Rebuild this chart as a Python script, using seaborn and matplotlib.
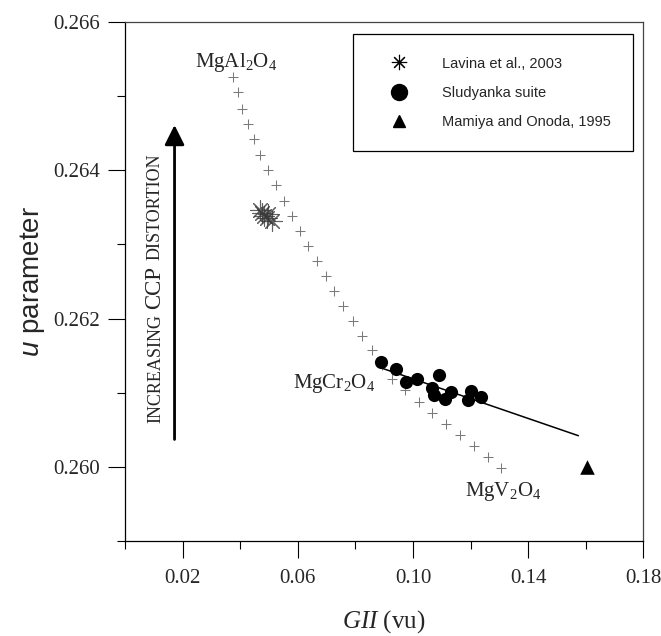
import matplotlib
matplotlib.use("Agg")
import matplotlib.pyplot as plt
import seaborn as sns
from matplotlib.lines import Line2D
from matplotlib.ticker import FixedLocator

# Model trend between the MgAl2O4, MgCr2O4 and MgV2O4 end-members
model_gii = [0.0376, 0.0391, 0.0406, 0.0427, 0.0447, 0.0470, 0.0495, 0.0523,
             0.0551, 0.0579, 0.0608, 0.0636, 0.0667, 0.0697, 0.0727, 0.0758,
             0.0793, 0.0823, 0.0859, 0.0892, 0.0926, 0.0972, 0.1021, 0.1067,
             0.1115, 0.1163, 0.1211, 0.1259, 0.1305]
model_u = [0.26526, 0.26505, 0.26483, 0.26463, 0.26442, 0.26421, 0.26401,
           0.26380, 0.26359, 0.26339, 0.26318, 0.26298, 0.26278, 0.26257,
           0.26237, 0.26217, 0.26197, 0.26177, 0.26157, 0.26138, 0.26118,
           0.26103, 0.26088, 0.26072, 0.26058, 0.26043, 0.26028, 0.26013,
           0.25998]

# Lavina et al., 2003
lavina_gii = [0.0469, 0.0476, 0.0483, 0.0493, 0.0510, 0.0496]
lavina_u = [0.26347, 0.26343, 0.26339, 0.26335, 0.26331, 0.26341]

# Sludyanka suite
sludyanka_gii = [0.0889, 0.0942, 0.0975, 0.1013, 0.1089, 0.1065, 0.1074,
                 0.1112, 0.1131, 0.1200, 0.1191, 0.1235]
sludyanka_u = [0.26141, 0.26132, 0.26114, 0.26118, 0.26124, 0.26106,
               0.26097, 0.26092, 0.26101, 0.26102, 0.26090, 0.26094]

# Mamiya and Onoda, 1995
mamiya_gii = [0.1603]
mamiya_u = [0.2600]

# Linear trend through the Sludyanka samples
trend_gii = [0.0885, 0.1574]
trend_u = [0.26134, 0.26042]

x_major = [0.02, 0.06, 0.10, 0.14, 0.18]
x_major_labels = ["0.02", "0.06", "0.10", "0.14", "0.18"]
x_minor = [0.0, 0.04, 0.08, 0.12, 0.16]
y_major = [0.260, 0.262, 0.264, 0.266]
y_major_labels = ["0.260", "0.262", "0.264", "0.266"]
y_minor = [0.259, 0.261, 0.263, 0.265]

legend_labels = ["Lavina et al., 2003", "Sludyanka suite", "Mamiya and Onoda, 1995"]

sns.set_style("ticks")
plt.rcParams.update({
    "mathtext.fontset": "custom",
    "mathtext.rm": "Liberation Serif",
    "mathtext.it": "Liberation Serif:italic",
    "mathtext.sf": "Liberation Sans:italic",
    "font.family": ["Liberation Serif", "DejaVu Serif"],
})

SERIF = "Liberation Serif"
SANS = "Liberation Sans"
ASTERISK = (8, 2, 0)

fig = plt.figure(figsize=(6.61, 6.36), dpi=100)
ax = fig.add_axes([0.1891, 0.1494, 0.7844, 0.8160])

sns.lineplot(x=trend_gii, y=trend_u, color="black", linewidth=1.1,
             sort=False, ax=ax, zorder=2)
sns.scatterplot(x=model_gii, y=model_u, marker="+", s=55, color="#7a7a7a",
                linewidth=0.75, edgecolor=None, ax=ax, zorder=1)
sns.scatterplot(x=lavina_gii, y=lavina_u, marker=ASTERISK, s=200,
                color="#3a3a3a", linewidth=0.8, edgecolor=None, ax=ax,
                alpha=0.8, zorder=3)
sns.scatterplot(x=sludyanka_gii, y=sludyanka_u, marker="o", s=90,
                color="black", edgecolor="black", linewidth=0, ax=ax, zorder=4)
sns.scatterplot(x=mamiya_gii, y=mamiya_u, marker="^", s=110,
                color="black", edgecolor="black", linewidth=0, ax=ax, zorder=4)

ax.set_xlim(0.0, 0.18)
ax.set_ylim(0.259, 0.266)

ax.xaxis.set_major_locator(FixedLocator(x_major))
ax.xaxis.set_minor_locator(FixedLocator(x_minor))
ax.set_xticklabels(x_major_labels)
ax.yaxis.set_major_locator(FixedLocator(y_major))
ax.yaxis.set_minor_locator(FixedLocator(y_minor))
ax.set_yticklabels(y_major_labels)

ax.tick_params(which="major", direction="out", length=12.5, width=0.8,
               color="black", labelsize=15)
ax.tick_params(axis="x", which="major", pad=8)
ax.tick_params(axis="y", which="major", pad=5.5)
ax.tick_params(which="minor", direction="out", length=6, width=0.8,
               color="black")
for lab in ax.get_xticklabels() + ax.get_yticklabels():
    lab.set_fontfamily(SERIF)

for side in ["left", "bottom"]:
    ax.spines[side].set_color("black")
    ax.spines[side].set_linewidth(0.9)
for side in ["top", "right"]:
    ax.spines[side].set_visible(True)
    ax.spines[side].set_color("#444444")
    ax.spines[side].set_linewidth(0.9)

ax.set_xlabel(r"$GII$ (vu)", fontsize=18, fontfamily=SERIF)
ax.xaxis.set_label_coords(0.5, -0.13)
ax.set_ylabel(r"$\mathsf{u}$ parameter", fontsize=20, fontfamily=SANS)
ax.yaxis.set_label_coords(-0.15, 0.5)

# End-member labels
ax.text(0.0243, 0.26539, r"MgAl$_2$O$_4$", fontsize=15, fontfamily=SERIF,
        ha="left", va="baseline")
ax.text(0.0868, 0.26106, r"MgCr$_2$O$_4$", fontsize=15, fontfamily=SERIF,
        ha="right", va="baseline")
ax.text(0.1180, 0.25961, r"MgV$_2$O$_4$", fontsize=15, fontfamily=SERIF,
        ha="left", va="baseline")

# Distortion arrow
ax.annotate("", xy=(0.0172, 0.26461), xytext=(0.0172, 0.26037),
            arrowprops=dict(arrowstyle="-|>,head_length=0.4,head_width=0.2",
                            color="black", lw=2.0, mutation_scale=30,
                            shrinkA=0, shrinkB=0))

# Vertical caption in mixed sizes, stacked word by word
fig.canvas.draw()
renderer = fig.canvas.get_renderer()
caption = [("INCREASING", 13), ("CCP", 16.5), ("DISTORTION", 13)]
offset = 0.0
for word, size in caption:
    t = ax.annotate(word, xy=(0.01215, 0.26059), xycoords="data",
                    xytext=(0, offset), textcoords="offset points",
                    rotation=90, rotation_mode="anchor", ha="left",
                    va="baseline", fontsize=size, fontfamily=SERIF)
    ext = t.get_window_extent(renderer)
    offset += ext.height * 72.0 / fig.dpi + 4.0

handles = [
    Line2D([], [], marker=ASTERISK, linestyle="none", color="black",
           markersize=11, markeredgewidth=0.8),
    Line2D([], [], marker="o", linestyle="none", color="black", markersize=11.5),
    Line2D([], [], marker="^", linestyle="none", color="black", markersize=9),
]
leg = ax.legend(handles, legend_labels, loc="upper left",
                bbox_to_anchor=(0.4397, 0.9769), borderaxespad=0,
                prop={"family": SANS, "size": 10.5}, frameon=True,
                fancybox=False, framealpha=1, edgecolor="black",
                borderpad=1.55, labelspacing=1.03, handlelength=3.15,
                handletextpad=1.4)
leg.get_frame().set_linewidth(0.9)

fig.savefig("out.png", dpi=100)
